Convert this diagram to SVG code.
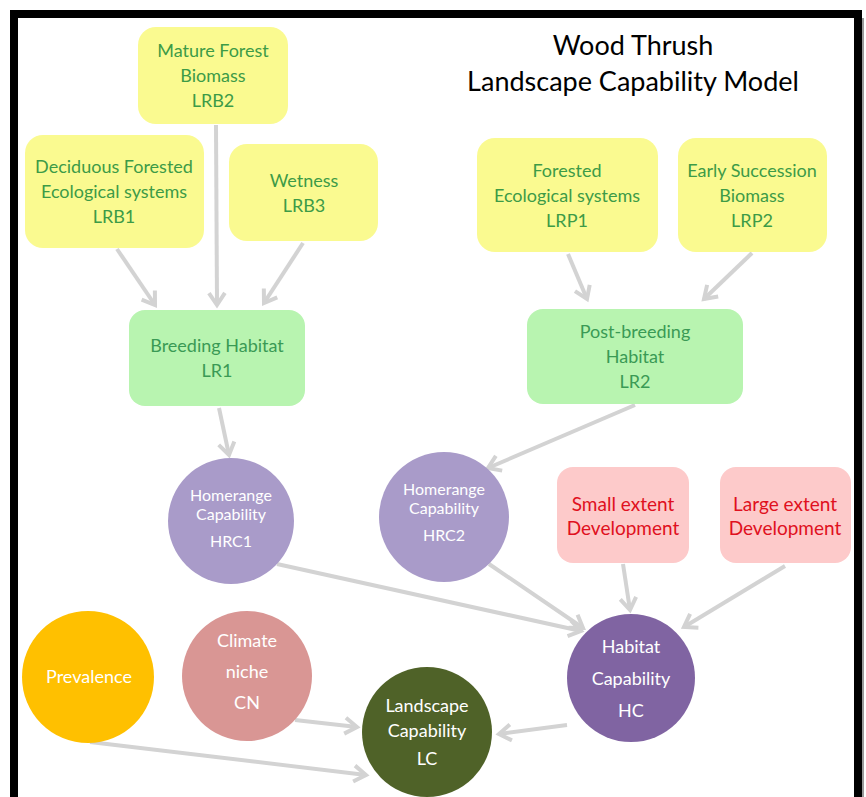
<svg xmlns="http://www.w3.org/2000/svg" width="866" height="797" viewBox="0 0 866 797">
<defs>
<marker id="arr" markerUnits="userSpaceOnUse" markerWidth="24" markerHeight="24" refX="15" refY="10" orient="auto">
<path d="M3,2 L15,10 L3,18" fill="none" stroke="#d3d3d3" stroke-width="4" stroke-linejoin="miter"/>
</marker>
</defs>
<style>
text{font-family:Lato,"Liberation Sans",sans-serif;text-anchor:middle}
.y{fill:#fafa90}
.g{fill:#b8f4b0}
.p{fill:#fdcaca}
.yt{fill:#3d9b47;font-size:18px}
.gt{fill:#3a9a55;font-size:18px}
.rt{fill:#e01020;font-size:19px}
.wt{fill:#ffffff;font-size:18px}
.ht{fill:#ffffff;font-size:16px}
.title{fill:#000;font-size:27px}
#connectors line{stroke:#d3d3d3;stroke-width:4;marker-end:url(#arr)}
</style>
<rect x="0" y="0" width="866" height="797" fill="#ffffff"/>
<rect x="14" y="14" width="844" height="800" fill="#ffffff" stroke="#000" stroke-width="8"/>
<line x1="863" y1="18" x2="863" y2="797" stroke="#9a9a9a" stroke-width="2"/>
<g id="title">
<text class="title" x="633" y="55">Wood Thrush</text>
<text class="title" x="633" y="91">Landscape Capability Model</text>
</g>
<g id="connectors">
<line x1="117" y1="249" x2="155" y2="305"/>
<line x1="216" y1="125" x2="217" y2="305"/>
<line x1="303" y1="243" x2="264" y2="303"/>
<line x1="568" y1="254" x2="587" y2="299"/>
<line x1="752" y1="253" x2="704" y2="299"/>
<line x1="219" y1="408" x2="229" y2="455"/>
<line x1="635" y1="405" x2="488" y2="468"/>
<line x1="277" y1="564" x2="581" y2="631"/>
<line x1="489" y1="564" x2="583" y2="628"/>
<line x1="623" y1="564" x2="630" y2="610"/>
<line x1="785" y1="566" x2="684" y2="627"/>
<line x1="567" y1="725" x2="499" y2="734"/>
<line x1="295" y1="720" x2="357" y2="727"/>
<line x1="90" y1="742" x2="366" y2="775"/>
</g>
<g id="LRB2">
<rect class="y" x="138" y="27" width="150" height="97" rx="18"/>
<text class="yt" x="213" y="57">Mature Forest</text>
<text class="yt" x="213" y="82">Biomass</text>
<text class="yt" x="213" y="107">LRB2</text>
</g>
<g id="LRB1">
<rect class="y" x="25" y="135" width="179" height="113" rx="18"/>
<text class="yt" x="114" y="173">Deciduous Forested</text>
<text class="yt" x="114" y="198">Ecological systems</text>
<text class="yt" x="114" y="223">LRB1</text>
</g>
<g id="LRB3">
<rect class="y" x="229" y="144" width="149" height="97" rx="18"/>
<text class="yt" x="304" y="187">Wetness</text>
<text class="yt" x="304" y="212">LRB3</text>
</g>
<g id="LRP1">
<rect class="y" x="477" y="138" width="181" height="114" rx="18"/>
<text class="yt" x="567" y="177">Forested</text>
<text class="yt" x="567" y="202">Ecological systems</text>
<text class="yt" x="567" y="227">LRP1</text>
</g>
<g id="LRP2">
<rect class="y" x="678" y="138" width="149" height="114" rx="18"/>
<text class="yt" x="752" y="177">Early Succession</text>
<text class="yt" x="752" y="202">Biomass</text>
<text class="yt" x="752" y="227">LRP2</text>
</g>
<g id="LR1">
<rect class="g" x="129" y="310" width="176" height="96" rx="16"/>
<text class="gt" x="217" y="352">Breeding Habitat</text>
<text class="gt" x="217" y="377">LR1</text>
</g>
<g id="LR2">
<rect class="g" x="527" y="309" width="216" height="95" rx="16"/>
<text class="gt" x="635" y="338">Post-breeding</text>
<text class="gt" x="635" y="363">Habitat</text>
<text class="gt" x="635" y="388">LR2</text>
</g>
<g id="HRC1">
<circle cx="231" cy="521" r="63" fill="#a99bc9"/>
<text class="ht" x="231" y="501">Homerange</text>
<text class="ht" x="231" y="520">Capability</text>
<text class="ht" x="231" y="547">HRC1</text>
</g>
<g id="HRC2">
<circle cx="444" cy="517" r="65" fill="#a99bc9"/>
<text class="ht" x="444" y="495">Homerange</text>
<text class="ht" x="444" y="514">Capability</text>
<text class="ht" x="444" y="541">HRC2</text>
</g>
<g id="SmallDev">
<rect class="p" x="557" y="467" width="132" height="96" rx="16"/>
<text class="rt" x="623" y="511">Small extent</text>
<text class="rt" x="623" y="535">Development</text>
</g>
<g id="LargeDev">
<rect class="p" x="720" y="467" width="131" height="96" rx="16"/>
<text class="rt" x="785" y="511">Large extent</text>
<text class="rt" x="785" y="535">Development</text>
</g>
<g id="Prevalence">
<circle cx="88" cy="677" r="66" fill="#ffc000"/>
<text class="wt" x="89" y="683">Prevalence</text>
</g>
<g id="CN">
<circle cx="247" cy="676" r="65" fill="#d99694"/>
<text class="wt" x="247" y="647">Climate</text>
<text class="wt" x="247" y="678">niche</text>
<text class="wt" x="247" y="709">CN</text>
</g>
<g id="HC">
<circle cx="631" cy="678" r="64" fill="#8064a2"/>
<text class="wt" x="631" y="653">Habitat</text>
<text class="wt" x="631" y="685">Capability</text>
<text class="wt" x="631" y="717">HC</text>
</g>
<g id="LC">
<circle cx="427" cy="732" r="65" fill="#4f6228"/>
<text class="wt" x="427" y="712">Landscape</text>
<text class="wt" x="427" y="737">Capability</text>
<text class="wt" x="427" y="765">LC</text>
</g>
</svg>
